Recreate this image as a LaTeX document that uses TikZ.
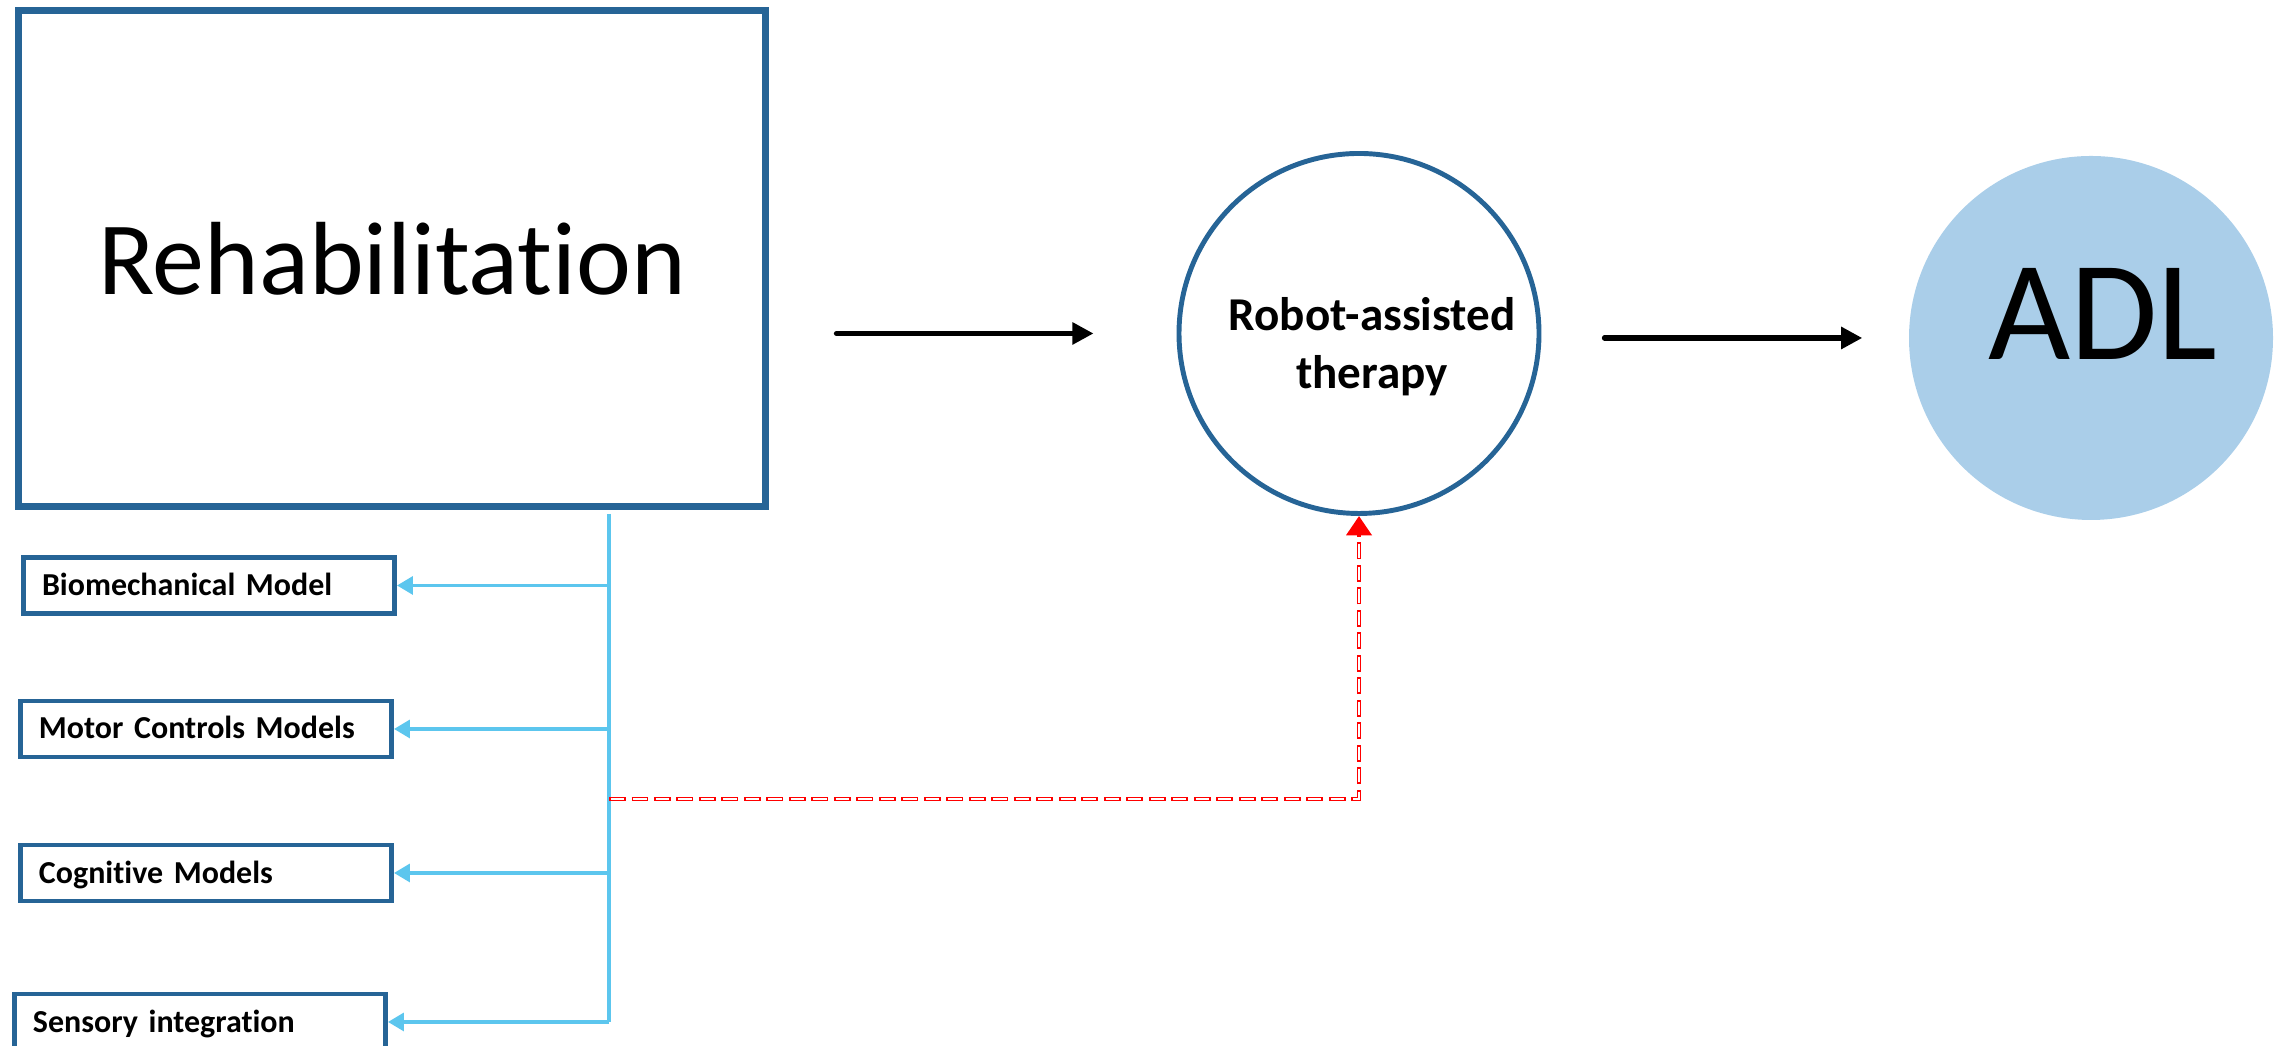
\documentclass[tikz,border=0pt]{standalone}
\usepackage{fontspec}
\setmainfont{Carlito}[Ligatures=NoCommon]
\usetikzlibrary{arrows.meta}
\definecolor{boxblue}{RGB}{38,100,150}
\definecolor{linkblue}{RGB}{92,198,238}
\definecolor{adlblue}{RGB}{170,206,233}

\begin{document}
\begin{tikzpicture}[
    model/.style={draw=boxblue,line width=1.4pt,minimum height=0.56cm,text width=3.34cm,inner xsep=0.185cm,align=left,
        font=\fontsize{9.1}{11}\selectfont\bfseries,text height=6.4pt,text depth=0.7pt},
    flow/.style={-{Triangle[length=6pt,width=6pt]},line width=1.5pt,line cap=round},
    branch/.style={-{Triangle[length=4.5pt,width=5pt]},linkblue,line width=1.1pt},
    feedback/.style={red,line width=1.4pt,dash pattern=on 4.8pt off 1.6pt,
        postaction={draw=white,-,line width=0.5pt,dash pattern=on 3.8pt off 2.6pt,dash phase=-0.5pt,shorten >=6pt}}
]
\useasboundingbox (0,0) rectangle (22.83,10.46);

% main chain
\node[draw=boxblue,line width=2pt,minimum width=7.47cm,minimum height=4.96cm,font=\fontsize{29.6}{35}\selectfont] (rehab) at (3.92,7.875) {Rehabilitation};
\node[circle,draw=boxblue,line width=1.4pt,minimum size=3.6cm] (robot) at (13.59,7.125) {};
\node[align=center,font=\fontsize{13.4}{16.5}\selectfont\bfseries] (robottxt) at (13.72,6.995) {Robot-assisted\\therapy};
\node[circle,fill=adlblue,minimum size=3.64cm] (adl) at (20.91,7.08) {};
\node[font=\fontsize{40.4}{48}\selectfont] (adltxt) at (21.03,7.32) {ADL};

\draw[flow,shorten <=0.675cm,shorten >=0.83cm] (rehab.east |- robot.west) -- (robot.west);
\draw[flow,shorten <=0.63cm,shorten >=0.46cm] (robot.east |- adl.west) -- (adl.west);

% models
\foreach \n/\x/\y/\txt in {1/2.09/4.605/Biomechanical Model,
                           2/2.06/3.17/Motor Controls Models,
                           3/2.06/1.73/Cognitive Models,
                           4/2.00/0.24/Sensory integration} {
    \node[model] (m\n) at (\x,\y) {\txt};
}

\coordinate (bustop) at (6.09,5.32);
\coordinate (fbstart) at (6.09,2.47);
\draw[linkblue,line width=1.1pt] (bustop) -- (bustop |- m4.east);
\foreach \n in {1,2,3} {
    \draw[branch] (bustop |- m\n.east) -- (m\n.east);
}
\draw[branch] (bustop |- m4.east) -- (m4.east);

% feedback to the robot
\draw[feedback,-{Triangle[length=5.5pt,width=7pt]}] (fbstart) -| (robot.south);
\end{tikzpicture}
\end{document}
